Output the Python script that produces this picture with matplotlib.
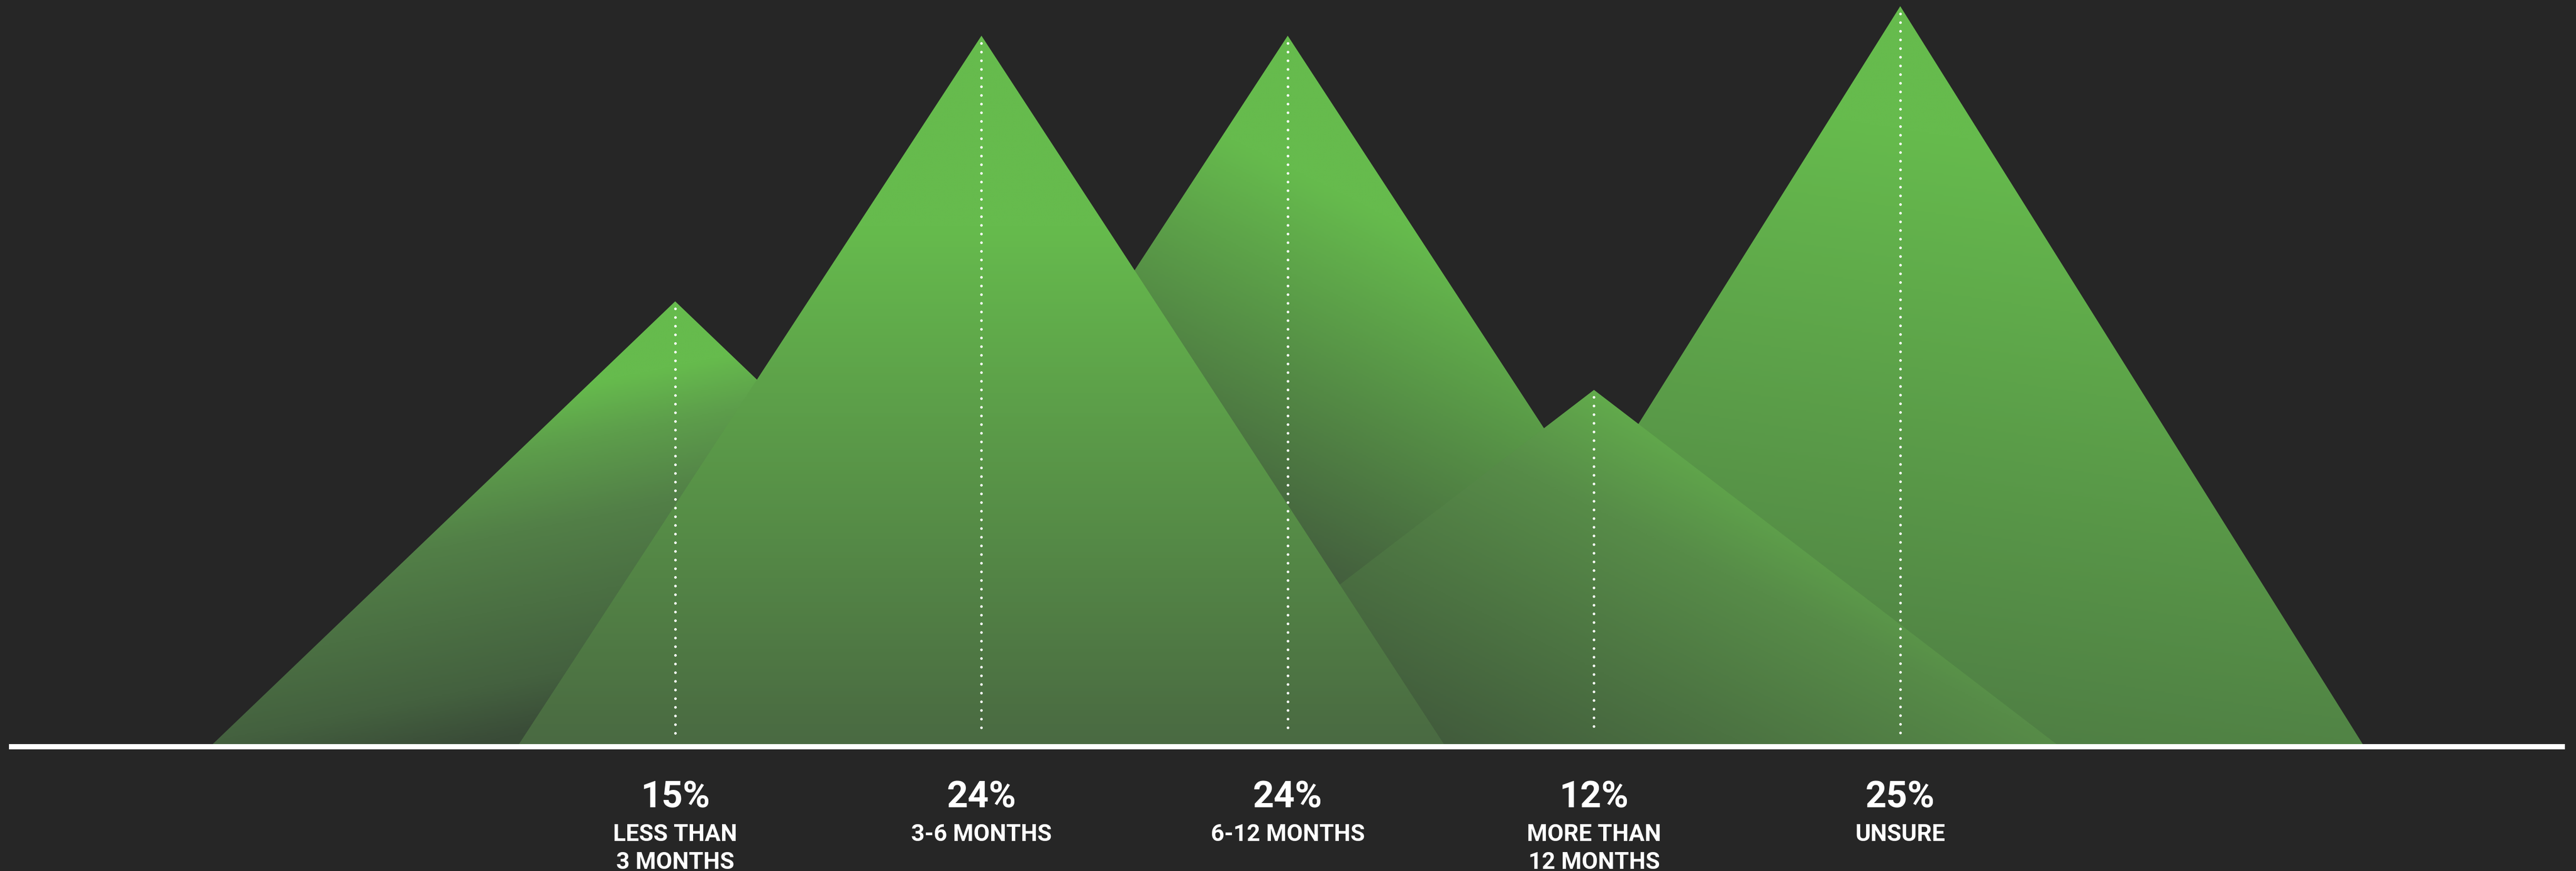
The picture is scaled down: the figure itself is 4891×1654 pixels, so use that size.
import numpy as np
import matplotlib.pyplot as plt
from matplotlib.colors import LinearSegmentedColormap
from matplotlib.patches import Polygon

plt.rcParams["font.family"] = ["Roboto", "DejaVu Sans"]

# survey answers, one mountain per answer
categories = ["LESS THAN\n3 MONTHS", "3-6 MONTHS", "6-12 MONTHS", "MORE THAN\n12 MONTHS", "UNSURE"]
values = [15, 24, 24, 12, 25]

BG = "#262626"
LIGHT = "#66bb4d"
HALF_WIDTH = 1.51

# gradient direction (screen space, y up), colour stops and stacking for each mountain
styles = [
    dict(direction=(0.2, -1.0), z=1,
         stops=[(0, LIGHT), (0.12, LIGHT), (0.22, "#5d9e4b"), (0.37, "#527f47"),
                (0.65, "#44613f"), (0.75, "#3a4c38"), (1, "#33402f")]),
    dict(direction=(0.0, -1.0), z=3,
         stops=[(0, LIGHT), (0.27, LIGHT), (1, "#4a6a42")]),
    dict(direction=(-0.5, -1.0), z=1,
         stops=[(0, LIGHT), (0.14, LIGHT), (0.55, "#44603e"), (1, "#3f573b")]),
    dict(direction=(-0.5, -1.0), z=2,
         stops=[(0, "#62ab4c"), (0.2, "#578c48"), (0.75, "#415a3c"), (1, "#3f573b")]),
    dict(direction=(-0.15, -1.0), z=1,
         stops=[(0, LIGHT), (0.15, LIGHT), (1, "#4c7643")]),
]

W, H = 4891, 1654
fig = plt.figure(figsize=(W / 100, H / 100), dpi=100, facecolor=BG)
ax = fig.add_axes([0, 0, 1, 1])
ax.set_facecolor(BG)

xlim = (-2.2046, 6.2064)
ylim = (-4.30, 25.21)
# pixels per data unit, so gradients keep their angle on screen
sx = W / (xlim[1] - xlim[0])
sy = H / (ylim[1] - ylim[0])

x = np.arange(len(values))

for xc, v, st in zip(x, values, styles):
    xs = np.linspace(xc - HALF_WIDTH, xc + HALF_WIDTH, 500)
    ys = np.linspace(0, v, 500)
    X, Y = np.meshgrid(xs, ys)
    u = np.array(st["direction"], dtype=float)
    u /= np.hypot(*u)
    t = (X - xc) * sx * u[0] + Y * sy * u[1]
    corners = np.array([[0, v * sy], [-HALF_WIDTH * sx, 0], [HALF_WIDTH * sx, 0]])
    tc = corners @ u
    s = (t - tc.min()) / (tc.max() - tc.min())
    cmap = LinearSegmentedColormap.from_list("mountain", st["stops"])
    im = ax.imshow(s, cmap=cmap, vmin=0, vmax=1, origin="lower", aspect="auto",
                   extent=(xc - HALF_WIDTH, xc + HALF_WIDTH, 0, v),
                   interpolation="bilinear", zorder=st["z"])
    tri = Polygon([(xc - HALF_WIDTH, 0), (xc, v), (xc + HALF_WIDTH, 0)],
                  closed=True, transform=ax.transData)
    im.set_clip_path(tri)

# dotted guide from each peak down to the base
for xc, v in zip(x, values):
    ax.plot([xc, xc], [v - 0.25, 0.34], color="white", lw=3.6,
            linestyle=(0, (0.01, 3.28)), dash_capstyle="round", zorder=4)

# base line
ax.plot([-2.175, 6.170], [-0.089, -0.089], color="white", lw=7.2,
        solid_capstyle="butt", zorder=5)

for xc, v, cat in zip(x, values, categories):
    ax.text(xc, -2.143, f"{v}%", color="white", fontsize=50.4, fontweight="bold",
            ha="center", va="baseline")
    ax.text(xc, -2.70, cat, color="white", fontsize=32, fontweight="bold",
            ha="center", va="top", linespacing=1.33, multialignment="center")

ax.set_xlim(*xlim)
ax.set_ylim(*ylim)
ax.axis("off")

fig.savefig("out.png", dpi=100, facecolor=BG)
